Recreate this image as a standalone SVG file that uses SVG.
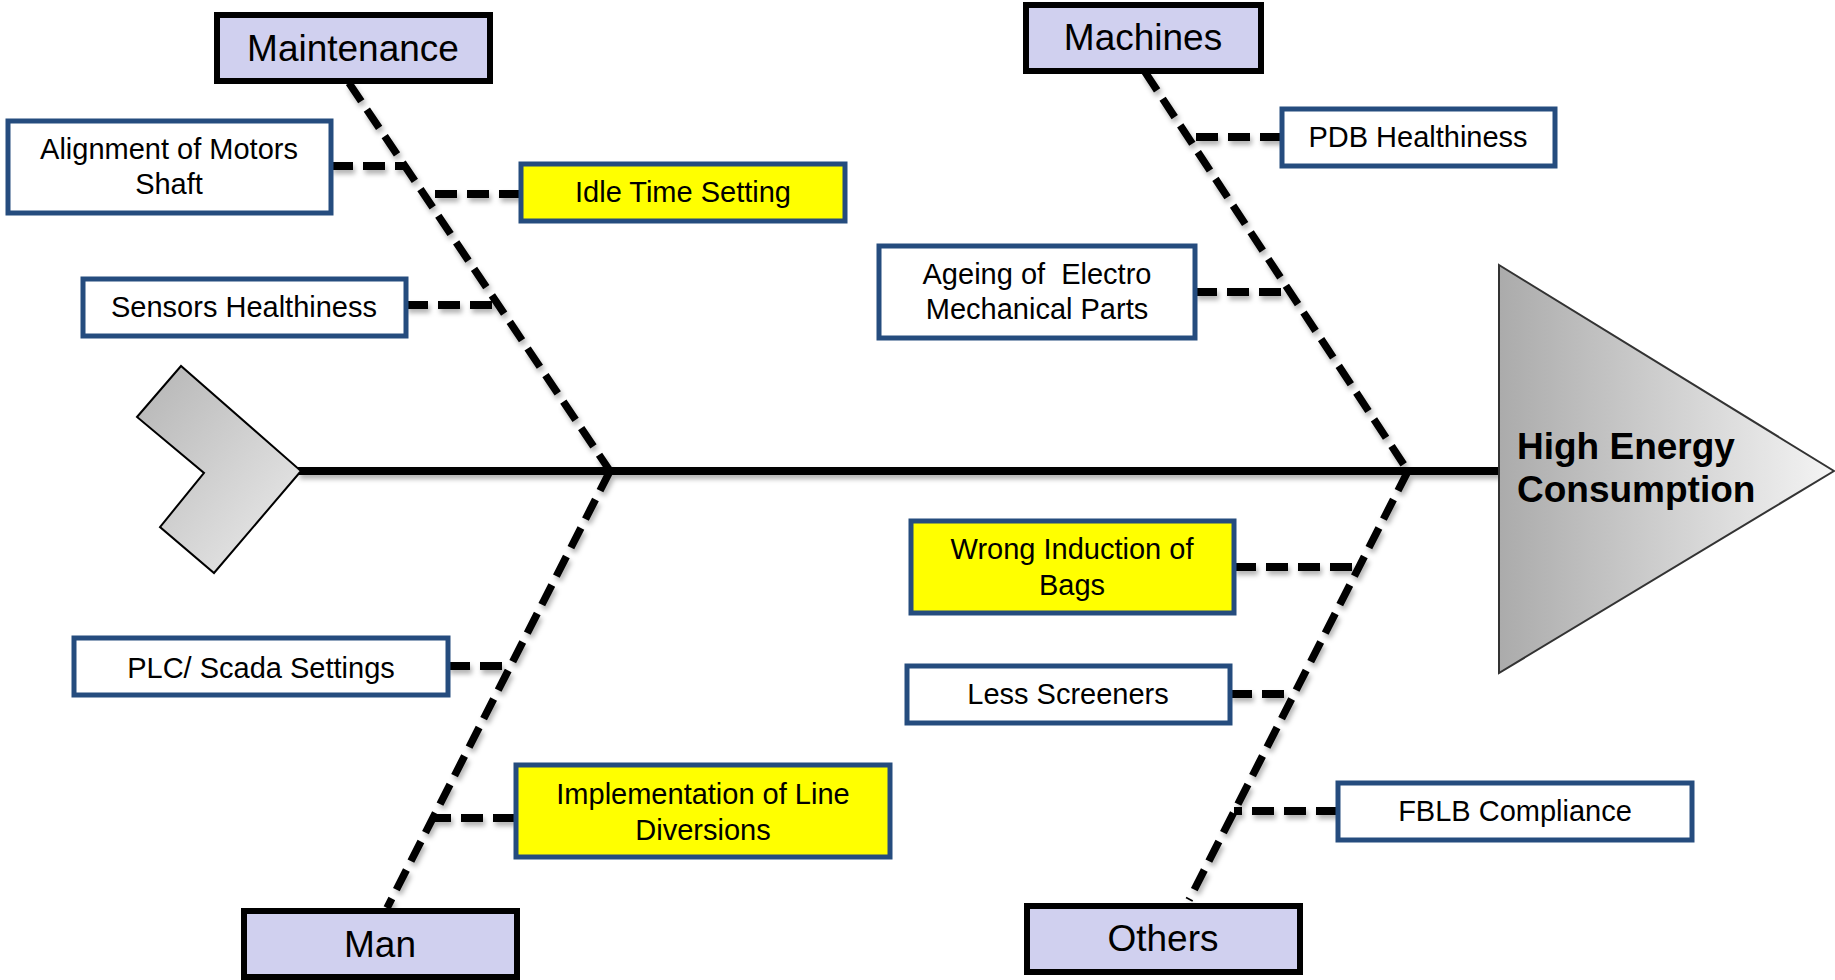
<svg xmlns="http://www.w3.org/2000/svg" width="1835" height="980" viewBox="0 0 1835 980">
<defs>
<linearGradient id="gHead" x1="0" y1="0" x2="1" y2="0">
<stop offset="0" stop-color="#ABABAB"/>
<stop offset="1" stop-color="#F4F4F4"/>
</linearGradient>
<linearGradient id="gTail" x1="0" y1="0" x2="1" y2="1">
<stop offset="0" stop-color="#B4B4B4"/>
<stop offset="1" stop-color="#EDEDED"/>
</linearGradient>
<filter id="sh" x="-20%" y="-20%" width="140%" height="140%">
<feDropShadow dx="2" dy="4" stdDeviation="2.5" flood-color="#000" flood-opacity="0.3"/>
</filter>
</defs>
<style>
.cat{fill:#D0D0EF;stroke:#000;stroke-width:6}
.cause{fill:#fff;stroke:#254C7E;stroke-width:5}
.hot{fill:#FFFF00;stroke:#254C7E;stroke-width:5}
.t{font-family:"Liberation Sans",Arial,sans-serif;fill:#000;text-anchor:middle}
.tc{font-size:37px}
.ts{font-size:29px}
.bone{stroke:#000;stroke-width:7.5;stroke-dasharray:22 10;fill:none}
.rib{stroke:#000;stroke-width:8;stroke-dasharray:22 10;fill:none}
</style>
<rect width="1835" height="980" fill="#fff"/>

<g id="connectors" filter="url(#sh)">
<line x1="298" y1="471" x2="1500" y2="471" stroke="#000" stroke-width="8"/>
<line class="bone" x1="349" y1="83" x2="610" y2="471"/>
<line class="bone" x1="610" y1="471" x2="387" y2="908"/>
<line class="bone" x1="1145" y1="72" x2="1408" y2="471"/>
<line class="bone" x1="1408" y1="471" x2="1189" y2="900"/>
<line class="rib" x1="331" y1="166" x2="405" y2="166"/>
<line class="rib" x1="521" y1="194" x2="423" y2="194"/>
<line class="rib" x1="406" y1="305" x2="499" y2="305"/>
<line class="rib" x1="1282" y1="137" x2="1188" y2="137"/>
<line class="rib" x1="1195" y1="292" x2="1291" y2="292"/>
<line class="rib" x1="448" y1="666" x2="511" y2="666"/>
<line class="rib" x1="515" y1="818" x2="433" y2="818"/>
<line class="rib" x1="1234" y1="567" x2="1356" y2="567"/>
<line class="rib" x1="1230" y1="694" x2="1294" y2="694"/>
<line class="rib" x1="1338" y1="811" x2="1234" y2="811"/>
</g>

<g id="tail">
<polygon points="181,366 137,417 204,473 160,527 214,573 301,471" fill="url(#gTail)" stroke="#000" stroke-width="2"/>
</g>

<g id="head">
<polygon points="1499,265 1834,471 1499,673" fill="url(#gHead)" stroke="#333" stroke-width="2"/>
<text class="t" style="text-anchor:start;font-weight:bold;font-size:37px" x="1517" y="459">High Energy</text>
<text class="t" style="text-anchor:start;font-weight:bold;font-size:37px" x="1517" y="502">Consumption</text>
</g>

<g id="maintenance">
<rect class="cat" x="217" y="15" width="273" height="66"/>
<text class="t tc" x="353" y="61">Maintenance</text>
</g>
<g id="machines">
<rect class="cat" x="1026" y="5" width="235" height="66"/>
<text class="t tc" x="1143" y="50">Machines</text>
</g>
<g id="man">
<rect class="cat" x="244" y="911" width="273" height="66"/>
<text class="t tc" x="380" y="957">Man</text>
</g>
<g id="others">
<rect class="cat" x="1027" y="906" width="273" height="66"/>
<text class="t tc" x="1163" y="951">Others</text>
</g>

<g id="alignment">
<rect class="cause" x="8" y="121" width="323" height="92"/>
<text class="t ts" x="169" y="159">Alignment of Motors</text>
<text class="t ts" x="169" y="194">Shaft</text>
</g>
<g id="idle">
<rect class="hot" x="521" y="164" width="324" height="57"/>
<text class="t ts" x="683" y="202">Idle Time Setting</text>
</g>
<g id="sensors">
<rect class="cause" x="83" y="279" width="323" height="57"/>
<text class="t ts" x="244" y="317">Sensors Healthiness</text>
</g>
<g id="pdb">
<rect class="cause" x="1282" y="109" width="273" height="57"/>
<text class="t ts" x="1418" y="147">PDB Healthiness</text>
</g>
<g id="ageing">
<rect class="cause" x="879" y="246" width="316" height="92"/>
<text class="t ts" x="1037" y="284" xml:space="preserve">Ageing of  Electro</text>
<text class="t ts" x="1037" y="319">Mechanical Parts</text>
</g>
<g id="wrong">
<rect class="hot" x="911" y="521" width="323" height="92"/>
<text class="t ts" x="1072" y="559">Wrong Induction of</text>
<text class="t ts" x="1072" y="595">Bags</text>
</g>
<g id="less">
<rect class="cause" x="907" y="666" width="323" height="57"/>
<text class="t ts" x="1068" y="704">Less Screeners</text>
</g>
<g id="fblb">
<rect class="cause" x="1338" y="783" width="354" height="57"/>
<text class="t ts" x="1515" y="821">FBLB Compliance</text>
</g>
<g id="plc">
<rect class="cause" x="74" y="638" width="374" height="57"/>
<text class="t ts" x="261" y="678">PLC/ Scada Settings</text>
</g>
<g id="implementation">
<rect class="hot" x="516" y="765" width="374" height="92"/>
<text class="t ts" x="703" y="804">Implementation of Line</text>
<text class="t ts" x="703" y="840">Diversions</text>
</g>
</svg>
